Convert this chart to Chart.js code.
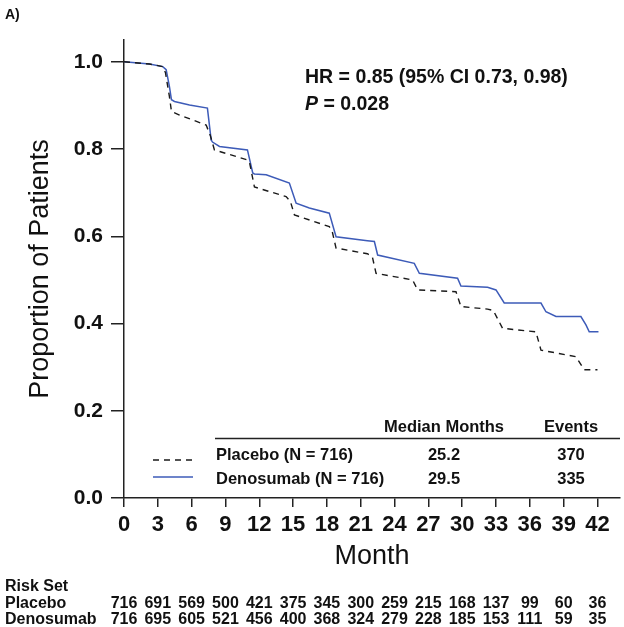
<!DOCTYPE html>
<html>
<head>
<meta charset="utf-8">
<script src="https://cdn.jsdelivr.net/npm/chart.js@4.4.1/dist/chart.umd.min.js"></script>
<style>
  html, body { margin: 0; padding: 0; background: #ffffff; }
  #wrap { width: 624px; height: 627px; position: relative; }
</style>
</head>
<body>
<div id="wrap"><canvas id="c" width="624" height="627"></canvas></div>
<script>
// ---------------- DATA ----------------
const panelLabel = 'A)';
const xTickLabels = [0, 3, 6, 9, 12, 15, 18, 21, 24, 27, 30, 33, 36, 39, 42];
const yTickLabels = [0.0, 0.2, 0.4, 0.6, 0.8, 1.0];

const placeboMonths = [0, 2.26, 3.44, 3.68, 4.03, 4.21, 4.92, 7.29, 7.67, 8.02, 10.95, 11.13, 11.57, 14.38, 14.76, 15.12, 18.21, 18.48, 18.81, 21.59, 22.03, 22.36, 25.60, 26.05, 29.45, 29.89, 32.25, 32.76, 33.58, 36.54, 36.99, 40.09, 40.82, 42.0];
const placeboSurv   = [1.0, 0.995, 0.989, 0.975, 0.92, 0.886, 0.878, 0.855, 0.83, 0.798, 0.775, 0.77, 0.713, 0.691, 0.68, 0.649, 0.622, 0.61, 0.573, 0.560, 0.553, 0.515, 0.500, 0.477, 0.473, 0.439, 0.433, 0.43, 0.389, 0.381, 0.339, 0.324, 0.294, 0.294];

const denosumabMonths = [0, 2.26, 3.44, 3.74, 4.03, 4.21, 4.48, 5.81, 7.40, 7.73, 7.85, 8.47, 10.95, 11.42, 11.57, 12.61, 14.67, 15.27, 16.44, 18.21, 18.81, 21.59, 22.21, 22.50, 25.75, 26.20, 29.59, 29.89, 32.25, 33.0, 33.73, 36.99, 37.43, 38.32, 40.53, 40.98, 41.27, 42.09];
const denosumabSurv   = [1.0, 0.995, 0.989, 0.982, 0.943, 0.913, 0.909, 0.901, 0.894, 0.821, 0.816, 0.806, 0.798, 0.745, 0.743, 0.741, 0.722, 0.676, 0.665, 0.653, 0.599, 0.590, 0.588, 0.557, 0.538, 0.515, 0.504, 0.486, 0.483, 0.477, 0.447, 0.447, 0.427, 0.416, 0.416, 0.397, 0.381, 0.381];

const seriesNames = ['Placebo', 'Denosumab'];
const legendLabels = ['Placebo (N = 716)', 'Denosumab (N = 716)'];
const medianMonths = ['25.2', '29.5'];
const eventCounts = ['370', '335'];
const hrText = 'HR = 0.85 (95% CI 0.73, 0.98)';
const pValue = '0.028';

const riskMonths = [0, 3, 6, 9, 12, 15, 18, 21, 24, 27, 30, 33, 36, 39, 42];
const riskPlacebo   = [716, 691, 569, 500, 421, 375, 345, 300, 259, 215, 168, 137, 99, 60, 36];
const riskDenosumab = [716, 695, 605, 521, 456, 400, 368, 324, 279, 228, 185, 153, 111, 59, 35];

// ---------------- STYLE ----------------
const FONT = "'Liberation Sans', Arial, Helvetica, sans-serif";
const INK = '#111111';
const AXIS = '#222222';
const BLUE = '#3d5bb8';
const DASH = [6, 5];

function toPoints(xs, ys) { return xs.map((x, i) => ({ x: x, y: ys[i] })); }

const annotationPlugin = {
  id: 'annotations',
  afterDraw(chart) {
    const ctx = chart.ctx;
    const xs = chart.scales.x;
    ctx.save();
    ctx.fillStyle = INK;
    ctx.textBaseline = 'middle';

    // Panel label
    ctx.font = 'bold 14px ' + FONT;
    ctx.textAlign = 'left';
    ctx.fillText(panelLabel, 5, 15);

    // HR / P text
    ctx.font = 'bold 19.5px ' + FONT;
    ctx.fillText(hrText, 305, 78);
    ctx.font = 'italic bold 19.5px ' + FONT;
    ctx.fillText('P', 305, 105);
    const pw = ctx.measureText('P').width;
    ctx.font = 'bold 19.5px ' + FONT;
    ctx.fillText(' = ' + pValue, 305 + pw, 105);

    // Legend table
    ctx.font = 'bold 16.5px ' + FONT;
    ctx.textAlign = 'center';
    const medX = 444, evX = 571;
    ctx.fillText('Median Months', medX, 427);
    ctx.fillText('Events', evX, 427);
    ctx.strokeStyle = AXIS;
    ctx.lineWidth = 1.3;
    ctx.beginPath();
    ctx.moveTo(215, 438.5);
    ctx.lineTo(620, 438.5);
    ctx.stroke();

    const rowY = [455, 479];
    const sampleY = [460, 477];
    chart.data.datasets.forEach((ds, i) => {
      ctx.save();
      ctx.strokeStyle = ds.borderColor;
      ctx.lineWidth = ds.borderWidth;
      ctx.setLineDash(ds.borderDash || []);
      ctx.beginPath();
      ctx.moveTo(153, sampleY[i]);
      ctx.lineTo(193, sampleY[i]);
      ctx.stroke();
      ctx.restore();
      ctx.textAlign = 'left';
      ctx.fillText(legendLabels[i], 216, rowY[i]);
      ctx.textAlign = 'center';
      ctx.fillText(medianMonths[i], medX, rowY[i]);
      ctx.fillText(eventCounts[i], evX, rowY[i]);
    });

    // Risk set table
    ctx.font = 'bold 16px ' + FONT;
    ctx.textAlign = 'left';
    const riskY = [587, 604, 620];
    ctx.fillText('Risk Set', 5, riskY[0]);
    ctx.fillText(seriesNames[0], 5, riskY[1]);
    ctx.fillText(seriesNames[1], 5, riskY[2]);
    ctx.textAlign = 'center';
    riskMonths.forEach((m, i) => {
      const px = xs.getPixelForValue(m);
      ctx.fillText(String(riskPlacebo[i]), px, riskY[1]);
      ctx.fillText(String(riskDenosumab[i]), px, riskY[2]);
    });
    ctx.restore();
  }
};

new Chart(document.getElementById('c'), {
  type: 'line',
  data: {
    datasets: [
      {
        label: legendLabels[0],
        data: toPoints(placeboMonths, placeboSurv),
        borderColor: '#1a1a1a',
        borderWidth: 1.4,
        borderDash: DASH,
        pointRadius: 0,
        tension: 0,
        fill: false
      },
      {
        label: legendLabels[1],
        data: toPoints(denosumabMonths, denosumabSurv),
        borderColor: BLUE,
        borderWidth: 1.5,
        pointRadius: 0,
        tension: 0,
        fill: false
      }
    ]
  },
  options: {
    responsive: false,
    animation: false,
    devicePixelRatio: 1,
    layout: { padding: { top: 40, right: 4, bottom: 0, left: 0 } },
    plugins: { legend: { display: false }, tooltip: { enabled: false }, title: { display: false } },
    scales: {
      x: {
        type: 'linear',
        min: 0,
        max: 44,
        afterBuildTicks(scale) { scale.ticks = xTickLabels.map(v => ({ value: v })); },
        afterFit(scale) { scale.height = 129; },
        grid: { display: true, drawOnChartArea: false, drawTicks: true, tickLength: 9, color: AXIS, lineWidth: 1.5 },
        border: { display: true, color: AXIS, width: 1.5 },
        ticks: { color: INK, font: { family: FONT, size: 22, weight: 'bold' }, padding: 5, maxRotation: 0, autoSkip: false },
        title: { display: true, text: 'Month', color: INK, font: { family: FONT, size: 27, weight: 'normal' }, padding: { top: 0, bottom: 54 } }
      },
      y: {
        type: 'linear',
        min: 0,
        max: 1.05,
        afterBuildTicks(scale) { scale.ticks = yTickLabels.map(v => ({ value: v })); },
        afterFit(scale) { scale.width = 124; },
        grid: { display: true, drawOnChartArea: false, drawTicks: true, tickLength: 13, color: AXIS, lineWidth: 1.5 },
        border: { display: true, color: AXIS, width: 1.5 },
        ticks: { color: INK, font: { family: FONT, size: 21, weight: 'bold' }, padding: 8, callback: v => Number(v).toFixed(1) },
        title: { display: true, text: 'Proportion of Patients', color: INK, font: { family: FONT, size: 27, weight: 'normal' }, padding: { top: 24, bottom: 0 } }
      }
    }
  },
  plugins: [annotationPlugin]
});
</script>
</body>
</html>
